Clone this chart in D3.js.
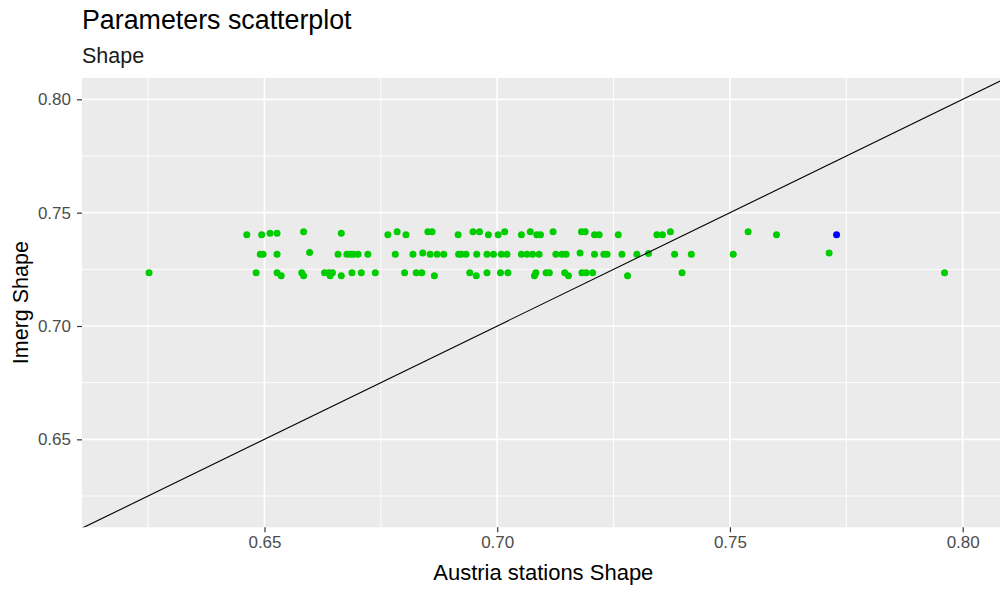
<!DOCTYPE html>
<html>
<head>
<meta charset="utf-8">
<script src="https://cdn.jsdelivr.net/npm/d3@7"></script>
<style>
  html, body { margin: 0; padding: 0; background: #ffffff; }
  svg { display: block; font-family: "Liberation Sans", Arial, sans-serif; }
</style>
</head>
<body>
<svg id="chart" width="1000" height="589"></svg>
<script>
// Shape parameter: station estimate (x) vs IMERG estimate (y)
const stationShape = [
  0.6252, 0.7961,
  0.6462, 0.6494, 0.6512, 0.6527, 0.6584, 0.6665, 0.6765, 0.6785, 0.6804, 0.6851,
  0.6860, 0.6916, 0.6948, 0.6962, 0.6981, 0.7002, 0.7016, 0.7052, 0.7071, 0.7085,
  0.7093, 0.7120, 0.7181, 0.7189, 0.7209, 0.7219, 0.7260, 0.7343, 0.7355, 0.7372,
  0.7539, 0.7600,
  0.6491, 0.6497, 0.6527, 0.6597, 0.6658, 0.6677, 0.6685, 0.6691, 0.6701, 0.6722,
  0.6781, 0.6819, 0.6840, 0.6856, 0.6871, 0.6885, 0.6917, 0.6923, 0.6933, 0.6956,
  0.6978, 0.6992, 0.7009, 0.7021, 0.7052, 0.7064, 0.7076, 0.7090, 0.7126, 0.7139,
  0.7148, 0.7178, 0.7209, 0.7229, 0.7236, 0.7268, 0.7300, 0.7325, 0.7381, 0.7417,
  0.7507, 0.7713,
  0.6482, 0.6527, 0.6536, 0.6580, 0.6584, 0.6629, 0.6638, 0.6646, 0.6641, 0.6665,
  0.6688, 0.6708, 0.6738, 0.6801, 0.6826, 0.6838, 0.6865, 0.6941, 0.6955, 0.6978,
  0.7007, 0.7023, 0.7083, 0.7080, 0.7105, 0.7112, 0.7145, 0.7153, 0.7182, 0.7191,
  0.7205, 0.7280, 0.7397
];
const imergShape = [
  0.7235, 0.7235,
  0.7402, 0.7402, 0.7409, 0.7409, 0.7416, 0.7409, 0.7402, 0.7416, 0.7402, 0.7416,
  0.7416, 0.7402, 0.7416, 0.7416, 0.7402, 0.7402, 0.7416, 0.7402, 0.7416, 0.7402,
  0.7402, 0.7416, 0.7416, 0.7416, 0.7402, 0.7402, 0.7402, 0.7402, 0.7402, 0.7416,
  0.7416, 0.7402,
  0.7316, 0.7316, 0.7316, 0.7324, 0.7316, 0.7316, 0.7316, 0.7316, 0.7316, 0.7316,
  0.7316, 0.7316, 0.7322, 0.7316, 0.7316, 0.7316, 0.7316, 0.7316, 0.7316, 0.7316,
  0.7316, 0.7316, 0.7316, 0.7316, 0.7316, 0.7316, 0.7316, 0.7316, 0.7316, 0.7316,
  0.7316, 0.7322, 0.7316, 0.7316, 0.7316, 0.7316, 0.7316, 0.7320, 0.7316, 0.7316,
  0.7316, 0.7322,
  0.7235, 0.7235, 0.7222, 0.7235, 0.7222, 0.7235, 0.7235, 0.7235, 0.7222, 0.7222,
  0.7235, 0.7235, 0.7235, 0.7235, 0.7235, 0.7235, 0.7222, 0.7235, 0.7222, 0.7235,
  0.7235, 0.7235, 0.7235, 0.7222, 0.7235, 0.7235, 0.7235, 0.7222, 0.7235, 0.7235,
  0.7235, 0.7222, 0.7235
];
// Highlighted station
const highlightStation = [0.7729];
const highlightImerg = [0.7402];

const xTicks = [0.65, 0.70, 0.75, 0.80];
const yTicks = [0.65, 0.70, 0.75, 0.80];
const xMinor = [0.625, 0.675, 0.725, 0.775];
const yMinor = [0.625, 0.675, 0.725, 0.775];
const xDomain = [0.6108, 0.809];
const yDomain = [0.6112, 0.8094];

const titleText = "Parameters scatterplot";
const subtitleText = "Shape";
const xTitle = "Austria stations Shape";
const yTitle = "Imerg Shape";

const panel = { left: 82, top: 78, right: 1004.6, bottom: 527.3 };

const svg = d3.select("#chart");
const x = d3.scaleLinear().domain(xDomain).range([panel.left, panel.right]);
const y = d3.scaleLinear().domain(yDomain).range([panel.bottom, panel.top]);

svg.append("defs").append("clipPath").attr("id", "panel-clip")
  .append("rect")
  .attr("x", panel.left).attr("y", panel.top)
  .attr("width", panel.right - panel.left).attr("height", panel.bottom - panel.top);

// panel background
svg.append("rect")
  .attr("x", panel.left).attr("y", panel.top)
  .attr("width", panel.right - panel.left).attr("height", panel.bottom - panel.top)
  .attr("fill", "#EBEBEB");

const grid = svg.append("g").attr("clip-path", "url(#panel-clip)");
// minor grid
grid.selectAll(".xminor").data(xMinor).enter().append("line")
  .attr("x1", d => x(d)).attr("x2", d => x(d))
  .attr("y1", panel.top).attr("y2", panel.bottom)
  .attr("stroke", "#ffffff").attr("stroke-width", 0.9);
grid.selectAll(".yminor").data(yMinor).enter().append("line")
  .attr("y1", d => y(d)).attr("y2", d => y(d))
  .attr("x1", panel.left).attr("x2", panel.right)
  .attr("stroke", "#ffffff").attr("stroke-width", 0.9);
// major grid
grid.selectAll(".xmajor").data(xTicks).enter().append("line")
  .attr("x1", d => x(d)).attr("x2", d => x(d))
  .attr("y1", panel.top).attr("y2", panel.bottom)
  .attr("stroke", "#ffffff").attr("stroke-width", 1.7);
grid.selectAll(".ymajor").data(yTicks).enter().append("line")
  .attr("y1", d => y(d)).attr("y2", d => y(d))
  .attr("x1", panel.left).attr("x2", panel.right)
  .attr("stroke", "#ffffff").attr("stroke-width", 1.7);

// points
const pts = stationShape.map((d, i) => ({ sx: d, iy: imergShape[i] }));
const plot = svg.append("g").attr("clip-path", "url(#panel-clip)");
plot.selectAll("circle.g").data(pts).enter().append("circle")
  .attr("cx", d => x(d.sx)).attr("cy", d => y(d.iy)).attr("r", 3.5)
  .attr("fill", "#00CD00");
const hi = highlightStation.map((d, i) => ({ sx: d, iy: highlightImerg[i] }));
plot.selectAll("circle.b").data(hi).enter().append("circle")
  .attr("cx", d => x(d.sx)).attr("cy", d => y(d.iy)).attr("r", 3.5)
  .attr("fill", "#0000FF");

// identity line y = x
const lo = Math.min(xDomain[0], yDomain[0]) - 0.01;
const hiV = Math.max(xDomain[1], yDomain[1]) + 0.01;
plot.append("line")
  .attr("x1", x(lo)).attr("y1", y(lo))
  .attr("x2", x(hiV)).attr("y2", y(hiV))
  .attr("stroke", "#000000").attr("stroke-width", 1.1);

// axes
const xAxis = d3.axisBottom(x).tickValues(xTicks).tickFormat(d3.format(".2f")).tickSize(5).tickPadding(4);
const yAxis = d3.axisLeft(y).tickValues(yTicks).tickFormat(d3.format(".2f")).tickSize(5).tickPadding(6);

const gx = svg.append("g").attr("transform", `translate(0,${panel.bottom})`).call(xAxis);
const gy = svg.append("g").attr("transform", `translate(${panel.left},0)`).call(yAxis);
[gx, gy].forEach(g => {
  g.select(".domain").remove();
  g.selectAll(".tick line").attr("stroke", "#333333").attr("stroke-width", 1.2);
  g.selectAll(".tick text").attr("fill", "#4D4D4D")
    .style("font-size", "17px").style("font-family", "'Liberation Sans', Arial, sans-serif");
});

// titles
svg.append("text").attr("x", 82).attr("y", 29)
  .attr("fill", "#000").style("font-size", "26.8px").text(titleText);
svg.append("text").attr("x", 82).attr("y", 63)
  .attr("fill", "#1A1A1A").style("font-size", "21.5px").text(subtitleText);
svg.append("text").attr("x", (panel.left + panel.right) / 2).attr("y", 580)
  .attr("text-anchor", "middle").attr("fill", "#000").style("font-size", "22px").text(xTitle);
svg.append("text")
  .attr("transform", `translate(28,${(panel.top + panel.bottom) / 2}) rotate(-90)`)
  .attr("text-anchor", "middle").attr("fill", "#000").style("font-size", "21.5px").text(yTitle);
</script>
</body>
</html>
